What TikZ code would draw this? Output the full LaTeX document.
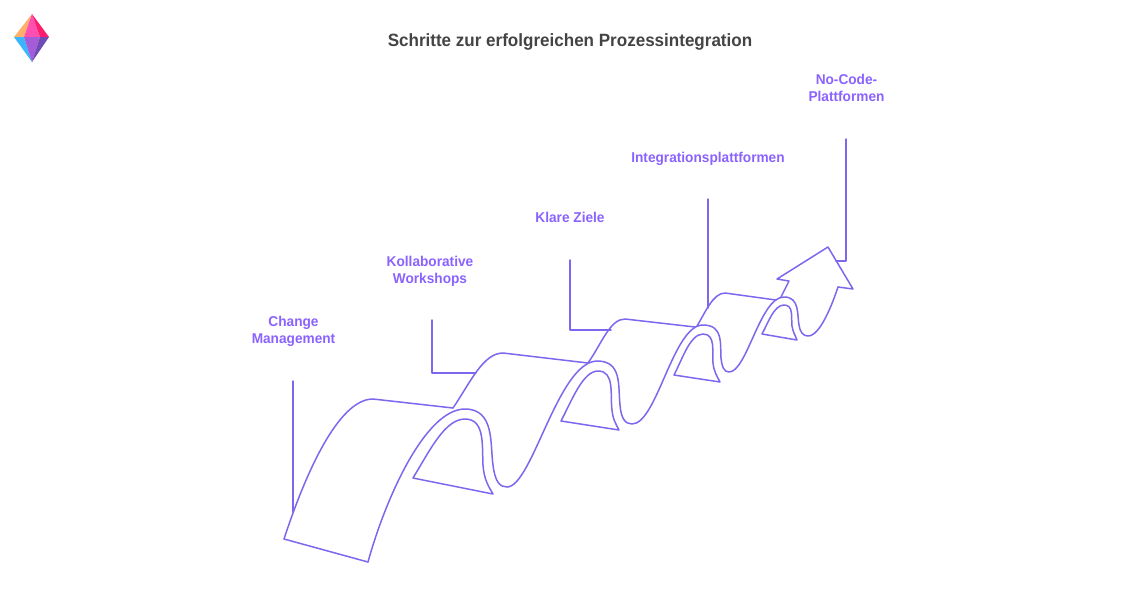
\documentclass[tikz,border=0pt]{standalone}
\usepackage{fontspec}
\setmainfont[FakeStretch=0.96]{Liberation Sans}
\definecolor{ribboncol}{HTML}{7E67EE}
\definecolor{labelcol}{HTML}{8A63FF}
\definecolor{titlecol}{HTML}{444444}
\tikzset{
	ribbon/.style={draw=ribboncol,line width=0.85pt,line join=round,line cap=round},
	steplabel/.style={text=labelcol,font=\fontsize{8.1}{9.64}\selectfont\bfseries,align=center,inner sep=0pt},
	pagetitle/.style={text=titlecol,font=\fontsize{10.1}{11}\selectfont\bfseries,inner sep=0pt}
}
\begin{document}
\begin{tikzpicture}[x=0.02cm,y=-0.02cm]
	\useasboundingbox (0,0) rectangle (1140,600);
	\fill[white] (0,0) rectangle (1140,600);
	% logo
	\fill[color={rgb,255:red,255;green,176;blue,106}] (32,14) -- (14,37) -- (24,37) -- cycle;
	\fill[color={rgb,255:red,255;green,79;blue,176}] (32,14) -- (24,37) -- (40,37) -- cycle;
	\fill[color={rgb,255:red,255;green,30;blue,110}] (32,14) -- (40,37) -- (49,37) -- cycle;
	\fill[color={rgb,255:red,61;green,180;blue,255}] (32,62) -- (14,37) -- (24,37) -- cycle;
	\fill[color={rgb,255:red,164;green,92;blue,216}] (32,62) -- (24,37) -- (40,37) -- cycle;
	\fill[color={rgb,255:red,110;green,75;blue,181}] (32,62) -- (40,37) -- (49,37) -- cycle;
	% labels
	\node[pagetitle] (title) at (570,41.5) {Schritte zur erfolgreichen Prozessintegration};
	\node[steplabel] (change) at (293.5,331) {Change\\Management};
	\node[steplabel] (workshops) at (430,271) {Kollaborative\\Workshops};
	\node[steplabel] (ziele) at (570,217.5) {Klare Ziele};
	\node[steplabel] (plattformen) at (708,158.5) {Integrationsplattformen};
	\node[steplabel] (nocode) at (846.5,88) {No-Code-\\Plattformen};
	% lead lines
	\coordinate (leadA) at (293.2,381);
	\coordinate (endA) at (293.2,512);
	\coordinate (leadB) at (432,320);
	\coordinate (endB) at (476,373);
	\coordinate (leadC) at (570,260);
	\coordinate (endC) at (611,330);
	\coordinate (leadD) at (708.2,199);
	\coordinate (endD) at (708.2,308);
	\coordinate (leadE) at (846.2,139);
	\coordinate (endE) at (836,261);
	\draw[ribbon] (leadA) -- (endA);
	\draw[ribbon] (leadB) |- (endB);
	\draw[ribbon] (leadC) |- (endC);
	\draw[ribbon] (leadD) -- (endD);
	\draw[ribbon] (leadE) |- (endE);
	% upper edges of the ribbons
	\draw[ribbon] (284,539) .. controls (305,475) and (338,399) .. (373,399) -- (453,408);
	\draw[ribbon] (453,408) .. controls (470,383) and (483,353) .. (503,353) -- (588,363);
	\draw[ribbon] (588,363) .. controls (602,343) and (610,319) .. (625,319) -- (695,327);
	\draw[ribbon] (697,326) .. controls (705,313) and (713,293) .. (725,293) -- (776,300);
	% front edge and arrow head
	\draw[ribbon] (284,539) -- (368,562);
	\draw[ribbon] (368,562) .. controls (385,500) and (425,409) .. (465,409)
		.. controls (495,409) and (490,445) .. (493,465)
		.. controls (495,482) and (500,487) .. (507,487)
		.. controls (532,487) and (558,362) .. (597,361)
		.. controls (622,361) and (618,385) .. (620,405)
		.. controls (621,418) and (625,424) .. (632,424)
		.. controls (657,424) and (673,325) .. (703,325)
		.. controls (724,325) and (720,345) .. (721,358)
		.. controls (722,367) and (724,372) .. (729,372)
		.. controls (747,372) and (760,297) .. (784,297)
		.. controls (800,297) and (797,315) .. (799,325)
		.. controls (800,332) and (803,336) .. (808,336)
		.. controls (820,336) and (832,305) .. (838,287);
	\draw[ribbon] (838,287) -- (853,289) -- (828,247) -- (777,279) -- (789,281) -- (781,297);
	% inner arches
	\draw[ribbon] (413,478) .. controls (430,450) and (445,419) .. (465,419)
		.. controls (485,419) and (482,445) .. (483,465)
		.. controls (484,480) and (489,487) .. (493,494) -- cycle;
	\draw[ribbon] (561,421) .. controls (572,400) and (583,371) .. (598,371)
		.. controls (615,371) and (610,395) .. (612,410)
		.. controls (613,420) and (616,424) .. (619,430) -- cycle;
	\draw[ribbon] (674,375) .. controls (682,360) and (690,334) .. (703,334)
		.. controls (716,334) and (712,352) .. (713,363)
		.. controls (714,372) and (717,376) .. (720,382) -- cycle;
	\draw[ribbon] (762,334) .. controls (768,323) and (774,305) .. (784,305)
		.. controls (794,305) and (791,318) .. (792,326)
		.. controls (793,332) and (795,335) .. (797,340) -- cycle;
\end{tikzpicture}
\end{document}
